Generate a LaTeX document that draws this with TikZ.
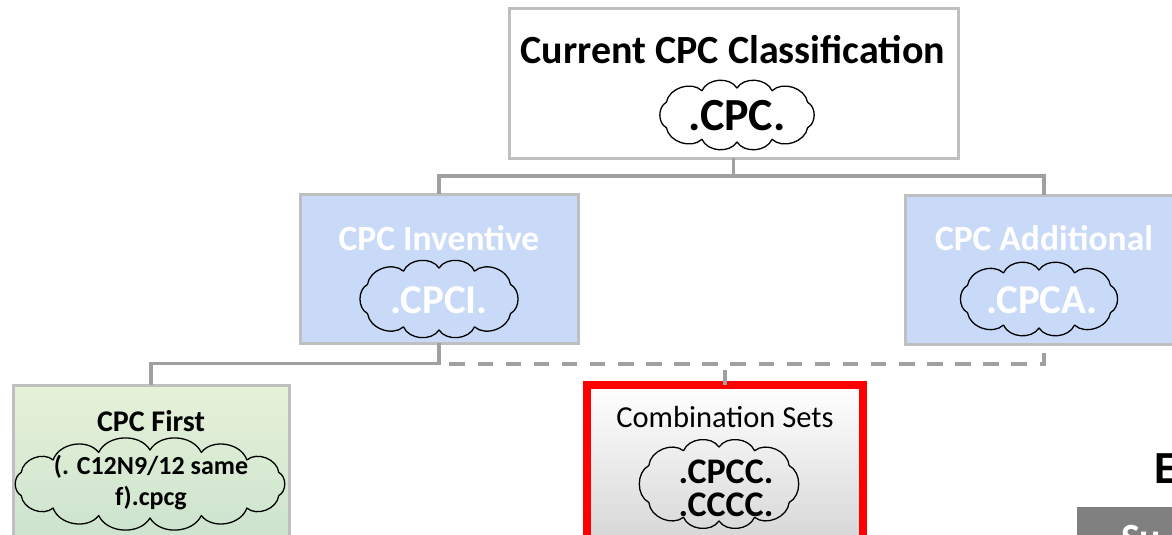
\documentclass[tikz,border=0pt]{standalone}
\usepackage{fontspec}
\setmainfont{Carlito}
\usetikzlibrary{calc}
\definecolor{bordergray}{HTML}{BFBFBF}
\definecolor{linegray}{HTML}{A0A0A0}
\definecolor{lblue}{HTML}{C9DAF8}
\definecolor{greentop}{HTML}{E6F2D8}
\definecolor{greenbot}{HTML}{C9E1CD}
\definecolor{graybot}{HTML}{D2D2D2}
\definecolor{darkgraybox}{HTML}{808080}
\newcommand\mycloud[6]{% #1 name, #2 a, #3 b, #4 first angle, #5 list, #6 fill
  \begin{scope}[shift={(#1)}]
    \filldraw[cloudline, fill=#6] (#4:#2 and #3) foreach \t in {#5} { to[bend left=62] (\t:#2 and #3) };
  \end{scope}}
\begin{document}
\begin{tikzpicture}[x=1pt,y=-1pt,
  box/.style={draw=bordergray, line width=3pt, rectangle, inner sep=0pt, outer sep=0pt},
  conn/.style={draw=linegray, line width=3.5pt},
  conndash/.style={conn, dash pattern=on 15.5pt off 12.6pt},
  cloudline/.style={draw=black, line width=1.3pt, line join=round},
  txt/.style={inner sep=0pt, outer sep=0pt, align=center}
]
\useasboundingbox (0,0) rectangle (1172,535);
\clip (0,0) rectangle (1172,535);

% boxes
\node[box, fill=white, minimum width=449pt, minimum height=149pt] (top) at (733.5,83.5) {};
\node[box, fill=lblue, minimum width=278pt, minimum height=149pt] (inv) at (439,268.5) {};
\node[box, fill=lblue, minimum width=278pt, minimum height=149pt] (add) at (1044,269.5) {};
\node[box, top color=greentop, bottom color=greenbot, minimum width=276pt, minimum height=175pt] (first) at (151,472.5) {};
\node[draw=red, line width=8pt, rectangle, inner sep=0pt, outer sep=0pt, top color=white, bottom color=graybot, minimum width=276pt, minimum height=175pt] (comb) at (725,472.5) {};
\node[draw=none, fill=darkgraybox, rectangle, inner sep=0pt, outer sep=0pt, minimum width=140pt, minimum height=60pt, anchor=north west] (sumbox) at (1077,507) {};

% connectors
\draw[conn] (top.south) -- ++(0,18) -| (inv.north);
\draw[conn] (top.south) -- ++(0,18) -| (add.north);
\draw[conn] (inv.south) -- ++(0,20.5) -| (first.north);
\draw[conndash, dash phase=19.1pt] (add.south) |- ($(inv.south)+(0,21)$);
\draw[conndash] (comb.north) -- ++(0,-21);

% titles
\node[txt, font=\bfseries\fontsize{40}{48}\selectfont] (toptitle) at (733,50) {Current CPC Classification};
\node[txt, text=white, font=\bfseries\fontsize{35.5}{42}\selectfont] (invtitle) at (439,238) {CPC Inventive};
\node[txt, text=white, font=\bfseries\fontsize{35.5}{42}\selectfont] (addtitle) at (1044,238) {CPC Additional};
\node[txt, font=\bfseries\fontsize{30}{36}\selectfont] (firsttitle) at (151,421) {CPC First};
\node[txt, font=\fontsize{30.5}{36}\selectfont] (combtitle) at (725,417) {Combination Sets};

% clouds
\coordinate (topcloud) at (737,115);
\coordinate (invcloud) at (439,299);
\coordinate (addcloud) at (1039,299);
\coordinate (firstcloud) at (150,484);
\coordinate (combcloud) at (719,484);

\mycloud{topcloud}{80}{27}{28}{64,90,116,152,208,244,270,296,332,388}{white}
\node[txt, font=\bfseries\fontsize{46}{56}\selectfont] (toptext) at (737,116) {.CPC.};

\mycloud{invcloud}{81}{31}{28}{64,90,116,152,208,244,270,296,332,388}{none}
\node[txt, text=white, font=\bfseries\fontsize{41}{48}\selectfont] (invtext) at (439,300) {.CPCI.};

\mycloud{addcloud}{81}{29}{28}{64,90,116,152,208,244,270,296,332,388}{none}
\node[txt, text=white, font=\bfseries\fontsize{41}{48}\selectfont] (addtext) at (1042,300) {.CPCA.};

\mycloud{firstcloud}{137}{34}{20}{45,68,90,112,135,160,200,225,248,270,292,315,340,380}{none}
\node[txt, font=\bfseries\fontsize{26}{31}\selectfont] (firsttext) at (151,483) {(. C12N9/12 same\\f).cpcg};

\mycloud{combcloud}{81}{37}{30}{64,90,116,150,210,244,270,296,330,390}{none}
\node[txt, font=\bfseries\fontsize{36}{33}\selectfont] (combtext) at (726,488) {.CPCC.\\.CCCC.};

% partial texts at right edge
\node[txt, anchor=base west, font=\bfseries\fontsize{46}{50}\selectfont] (etext) at (1154,483) {E};
\node[txt, anchor=base west, text=white, font=\bfseries\fontsize{40}{48}\selectfont] (sutext) at (1121,551) {Su};
\end{tikzpicture}
\end{document}
